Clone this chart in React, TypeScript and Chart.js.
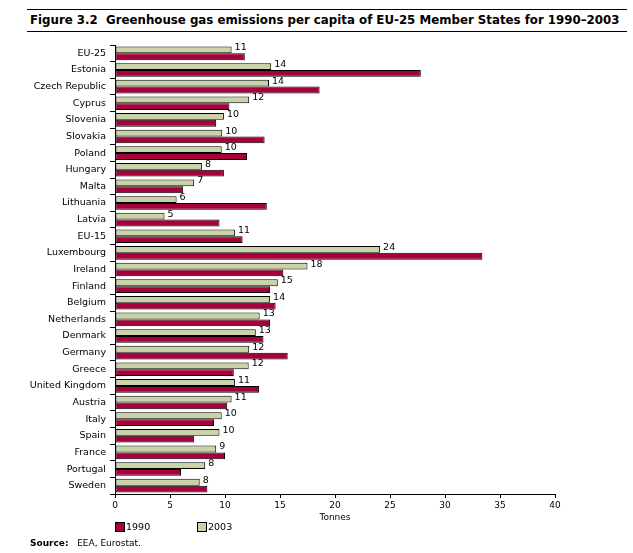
import React, { useEffect, useRef } from "react";
import { Chart, registerables } from "chart.js";

Chart.register(...registerables);

const categories = [
  "EU-25", "Estonia", "Czech Republic", "Cyprus", "Slovenia", "Slovakia", "Poland",
  "Hungary", "Malta", "Lithuania", "Latvia", "EU-15", "Luxembourg", "Ireland",
  "Finland", "Belgium", "Netherlands", "Denmark", "Germany", "Greece",
  "United Kingdom", "Austria", "Italy", "Spain", "France", "Portugal", "Sweden",
];

const values1990 = [
  11.8, 27.8, 18.6, 10.4, 9.2, 13.6, 12.0, 9.9, 6.2, 13.8, 9.5, 11.6, 33.4, 15.3,
  14.1, 14.6, 14.1, 13.5, 15.7, 10.8, 13.1, 10.2, 9.0, 7.2, 10.0, 6.0, 8.4,
];

const values2003 = [
  10.6, 14.2, 14.0, 12.2, 9.9, 9.75, 9.7, 7.9, 7.2, 5.6, 4.5, 10.9, 24.1, 17.5,
  14.8, 14.1, 13.15, 12.8, 12.2, 12.15, 10.9, 10.6, 9.7, 9.5, 9.2, 8.2, 7.7,
];

const labels2003 = [
  11, 14, 14, 12, 10, 10, 10, 8, 7, 6, 5, 11, 24, 18, 15, 14, 13, 13, 12, 12, 11, 11,
  10, 10, 9, 8, 8,
];

const xMin = 0;
const xMax = 40;
const xStep = 5;

const RED = "#A8003B";
const GREEN = "#CCD2A8";
const FONT = '"DejaVu Sans", Verdana, sans-serif';

export default function App() {
  const ref = useRef<HTMLCanvasElement | null>(null);

  useEffect(() => {
    if (!ref.current) return;
    const labelPlugin = {
      id: "barLabels",
      afterDatasetsDraw(chart: any) {
        const meta = chart.getDatasetMeta(0);
        const ctx = chart.ctx;
        ctx.save();
        ctx.font = `9.5px ${FONT}`;
        ctx.fillStyle = "#000";
        ctx.textBaseline = "middle";
        ctx.textAlign = "left";
        meta.data.forEach((bar: any, i: number) => {
          ctx.fillText(String(labels2003[i]), bar.x + 3, bar.y - 2);
        });
        ctx.restore();
      },
    };
    const tickFont = { family: FONT, size: 9 };
    const catFont = { family: FONT, size: 9.5 };
    const chart = new Chart(ref.current, {
      type: "bar",
      data: {
        labels: categories,
        datasets: [
          {
            label: "2003",
            data: values2003,
            backgroundColor: GREEN,
            borderColor: "#000",
            borderWidth: 1,
            borderSkipped: false,
            inflateAmount: 0,
            categoryPercentage: 0.82,
            barPercentage: 1,
          },
          {
            label: "1990",
            data: values1990,
            backgroundColor: RED,
            borderColor: "#000",
            borderWidth: 1,
            borderSkipped: false,
            inflateAmount: 0,
            categoryPercentage: 0.82,
            barPercentage: 1,
          },
        ],
      },
      options: {
        indexAxis: "y",
        responsive: false,
        animation: false,
        events: [],
        layout: { padding: { top: 45, right: 78, bottom: 29, left: 0 } },
        plugins: { legend: { display: false }, tooltip: { enabled: false } },
        scales: {
          x: {
            min: xMin,
            max: xMax,
            ticks: { stepSize: xStep, font: tickFont, color: "#000", padding: 2 },
            grid: { drawOnChartArea: false, tickLength: 4, color: "#000" },
            border: { color: "#000", width: 1 },
            title: {
              display: true,
              text: "Tonnes",
              font: tickFont,
              color: "#000",
              padding: { top: 0, bottom: 1 },
            },
            afterFit: (s: any) => {
              s.height = 30;
            },
          },
          y: {
            ticks: { font: catFont, color: "#000", padding: 4, autoSkip: false },
            grid: { offset: true, drawOnChartArea: false, tickLength: 5, color: "#000" },
            border: { color: "#000", width: 1 },
            afterFit: (s: any) => {
              s.width = 115;
            },
          },
        },
      },
      plugins: [labelPlugin],
    } as any);
    return () => chart.destroy();
  }, []);

  const legendBox = (color: string) => ({
    position: "absolute" as const,
    width: 8,
    height: 8,
    background: color,
    border: "1px solid #000",
  });

  return (
    <div
      style={{
        position: "absolute",
        left: 0,
        top: 0,
        width: 633,
        height: 553,
        background: "#fff",
        fontFamily: FONT,
        color: "#000",
      }}
    >
      <div style={{ position: "absolute", left: 27, top: 9, width: 600, height: 0, borderTop: "1px solid #000" }} />
      <div
        style={{
          position: "absolute",
          left: 30,
          top: 12,
          fontSize: 11.8,
          fontWeight: "bold",
          whiteSpace: "pre",
          lineHeight: "16px",
        }}
      >
        {"Figure 3.2  Greenhouse gas emissions per capita of EU-25 Member States for 1990\u20132003"}
      </div>
      <div style={{ position: "absolute", left: 27, top: 31, width: 600, height: 0, borderTop: "1px solid #000" }} />
      <canvas ref={ref} width={633} height={553} style={{ position: "absolute", left: 0, top: 0 }} />
      <div style={{ ...legendBox(RED), left: 115, top: 522 }} />
      <div style={{ position: "absolute", left: 126, top: 520, fontSize: 9.5, lineHeight: "13px" }}>1990</div>
      <div style={{ ...legendBox(GREEN), left: 197, top: 522 }} />
      <div style={{ position: "absolute", left: 208, top: 520, fontSize: 9.5, lineHeight: "13px" }}>2003</div>
      <div style={{ position: "absolute", left: 30, top: 537, fontSize: 9, lineHeight: "13px", whiteSpace: "pre" }}>
        <span style={{ fontWeight: "bold" }}>Source:</span>
        {"   EEA, Eurostat."}
      </div>
    </div>
  );
}
